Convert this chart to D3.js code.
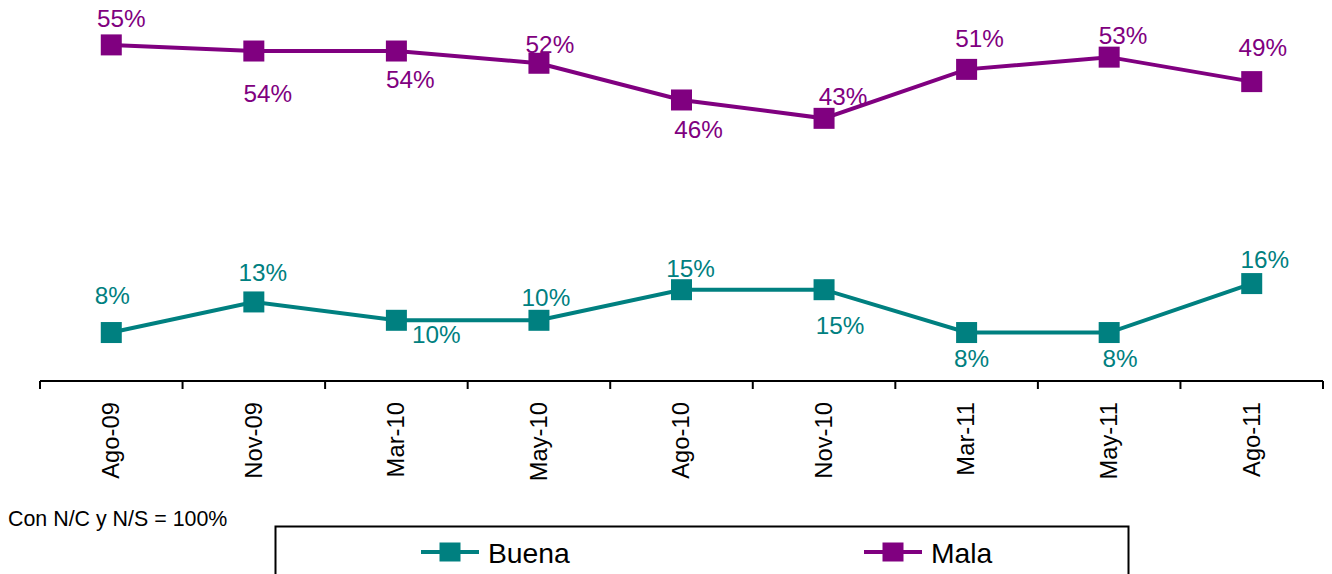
<!DOCTYPE html>
<html>
<head>
<meta charset="utf-8">
<script src="https://cdn.jsdelivr.net/npm/d3@7"></script>
<style>
  html, body { margin: 0; padding: 0; background: #fff; }
  svg { display: block; font-family: Arial, "Liberation Sans", sans-serif; }
</style>
</head>
<body>
<svg id="chart" width="1332" height="574"></svg>
<script>
// ---- data ----
const categories = ["Ago-09", "Nov-09", "Mar-10", "May-10", "Ago-10", "Nov-10", "Mar-11", "May-11", "Ago-11"];
const buena = [8, 13, 10, 10, 15, 15, 8, 8, 16];
const mala  = [55, 54, 54, 52, 46, 43, 51, 53, 49];
const seriesNames = ["Buena", "Mala"];
const note = "Con N/C y N/S = 100%";

// ---- label placement (offsets from marker, px) ----
const buenaLabelOffsets = [[1,-37],[9,-29],[40,14],[7,-23],[9,-21],[16,36],[5,26],[11,26],[13,-24]];
const malaLabelOffsets  = [[10,-26],[14,42],[14,28],[11,-19],[17,30],[19,-22],[13,-31],[14,-22],[11,-34]];

const colors = { Buena: "#008080", Mala: "#800080" };

const svg = d3.select("#chart");

const x = d3.scaleBand().domain(categories).range([40, 1323]).padding(0);
const y = d3.scaleLinear().domain([0, 60]).range([381.5, 14.3]);
const cx = c => x(c) + x.bandwidth() / 2;

// axis
const axisY = 381;
const axisG = svg.append("g").attr("transform", `translate(0,${axisY})`);
axisG.call(d3.axisBottom(x).tickSize(0).tickFormat(""));
axisG.select(".domain").attr("stroke", "#000").attr("stroke-width", 2.2).attr("d", `M40,0H1323`);
axisG.selectAll(".tick").remove();
const bounds = categories.map(c => x(c)).concat([x(categories[categories.length - 1]) + x.bandwidth()]);
axisG.selectAll("line.bt").data(bounds).enter().append("line")
  .attr("class", "bt")
  .attr("x1", d => d).attr("x2", d => d)
  .attr("y1", 0).attr("y2", 8)
  .attr("stroke", "#000").attr("stroke-width", 2);

svg.append("g").selectAll("text").data(categories).enter().append("text")
  .attr("transform", d => `translate(${cx(d)},402) rotate(-90)`)
  .attr("text-anchor", "end")
  .attr("dy", "0.33em")
  .attr("font-size", 23.8)
  .attr("fill", "#000")
  .text(d => d);

// series
const series = [
  { name: "Buena", values: buena, offsets: buenaLabelOffsets },
  { name: "Mala", values: mala, offsets: malaLabelOffsets }
];

const line = d3.line().x((d, i) => cx(categories[i])).y(d => y(d));
const ms = 21;

series.forEach(s => {
  const g = svg.append("g");
  g.append("path").datum(s.values)
    .attr("d", line)
    .attr("fill", "none")
    .attr("stroke", colors[s.name])
    .attr("stroke-width", 4);
  g.selectAll("rect").data(s.values).enter().append("rect")
    .attr("x", (d, i) => cx(categories[i]) - ms / 2)
    .attr("y", d => y(d) - ms / 2)
    .attr("width", ms).attr("height", ms)
    .attr("fill", colors[s.name]);
  g.selectAll("text").data(s.values).enter().append("text")
    .attr("x", (d, i) => cx(categories[i]) + s.offsets[i][0])
    .attr("y", (d, i) => y(d) + s.offsets[i][1])
    .attr("dy", "0.35em")
    .attr("text-anchor", "middle")
    .attr("font-size", 24.3)
    .attr("fill", colors[s.name])
    .text(d => d + "%");
});

// note
svg.append("text")
  .attr("x", 8).attr("y", 526)
  .attr("font-size", 21.4)
  .attr("fill", "#000")
  .text(note);

// legend
svg.append("rect")
  .attr("x", 275.5).attr("y", 526.5)
  .attr("width", 853).attr("height", 60)
  .attr("fill", "none").attr("stroke", "#000").attr("stroke-width", 2);

const legendItems = [
  { name: seriesNames[0], lx: 450 },
  { name: seriesNames[1], lx: 893 }
];
const legY = 552;
legendItems.forEach(it => {
  const g = svg.append("g");
  g.append("line")
    .attr("x1", it.lx - 29).attr("x2", it.lx + 29)
    .attr("y1", legY).attr("y2", legY)
    .attr("stroke", colors[it.name]).attr("stroke-width", 4);
  g.append("rect")
    .attr("x", it.lx - 10.5).attr("y", legY - 9.5)
    .attr("width", 21).attr("height", 19)
    .attr("fill", colors[it.name]);
  g.append("text")
    .attr("x", it.lx + 38).attr("y", legY + 10.5)
    .attr("font-size", 28.3)
    .attr("fill", "#000")
    .text(it.name);
});
</script>
</body>
</html>
